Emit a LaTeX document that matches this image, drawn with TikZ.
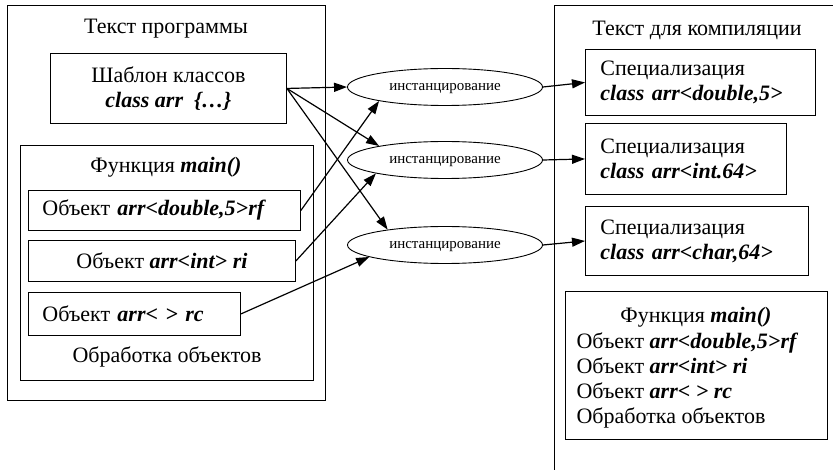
\documentclass[tikz,border=0pt]{standalone}
\usepackage{fontspec}
\setmainfont{Liberation Serif}
\usetikzlibrary{arrows.meta,shapes.geometric}
\tikzset{
  box/.style={draw, line width=0.9pt, anchor=north west, inner sep=0pt},
  ell/.style={draw, ellipse, line width=0.9pt, minimum width=195pt, minimum height=37pt,
    inner sep=0pt, text depth=0pt, font=\fontsize{15}{17}\selectfont},
  link/.style={line width=1.2pt, -{Triangle[length=13pt,width=9pt]}},
}
\newcommand{\code}[1]{\textbf{\textit{#1}}}
\begin{document}
\begin{tikzpicture}[x=1pt,y=-1pt,font=\fontsize{22}{25}\selectfont]
  \useasboundingbox (0,0) rectangle (833,470);
  % program text
  \node[box, minimum width=318pt, minimum height=395pt] (prog) at (7,5) {};
  \node (progtitle) at (166,29) {Текст программы};
  \node[box, minimum width=236pt, minimum height=70pt, align=center] (tpl) at (50,53)
    {Шаблон классов\\\code{class arr~ \{…\}}};
  \node[box, minimum width=293pt, minimum height=235pt] (mainL) at (20,145) {};
  \node (mainLtitle) at (166,167) {Функция \code{main()}};
  \node[box, minimum height=40pt, text width=244pt, inner xsep=14pt, align=left] (objrf) at (28,190)
    {Объект \code{arr<double,5>rf}};
  \node[box, minimum width=267pt, minimum height=41pt] (objri) at (28,240)
    {Объект \code{arr<int> ri}};
  \node[box, minimum height=43pt, text width=184pt, inner xsep=14pt, align=left] (objrc) at (28,292)
    {Объект \code{arr< > rc}};
  \node (procL) at (167,357) {Обработка объектов};
  % instantiation
  \node[ell] (inst1) at (445,87) {инстанцирование};
  \node[ell] (inst2) at (445,160) {инстанцирование};
  \node[ell] (inst3) at (445,245) {инстанцирование};
  % compiled text
  \draw[line width=0.9pt] (554,470) |- (833,5);
  \node (comptitle) at (697,30) {Текст для компиляции};
  \node[box, minimum height=66pt, text width=200pt, inner xsep=15pt, align=left] (spec1) at (585,49)
    {Специализация\\\code{class arr<double,5>}};
  \node[box, minimum height=71pt, text width=171pt, inner xsep=15pt, align=left] (spec2) at (585,123)
    {Специализация\\\code{class arr<int.64>}};
  \node[box, minimum height=69pt, text width=193pt, inner xsep=15pt, align=left] (spec3) at (585,206)
    {Специализация\\\code{class arr<char,64>}};
  \node[box, minimum width=262pt, minimum height=148pt] (mainR) at (565,291) {};
  \node (mainRtitle) at (696,317) {Функция \code{main()}};
  \node[anchor=west, align=left] (mainRbody) at (573,380)
    {Объект \code{arr<double,5>rf}\\Объект \code{arr<int> ri}\\Объект \code{arr< > rc}\\Обработка объектов};
  % connectors
  \draw[link] (tpl.east) -- (inst1.west);
  \draw[link] (tpl.east) -- (inst2.168);
  \draw[link] (tpl.east) -- (inst3.165);
  \draw[link] (objrf.east) -- (inst1.192);
  \draw[link] (objri.east) -- (inst2.191);
  \draw[link] (objrc.east) -- (inst3.189);
  \draw[link] (inst1.east) -- (spec1.west);
  \draw[link] (inst2.east) -- (spec2.west);
  \draw[link] (inst3.east) -- (spec3.west);
\end{tikzpicture}
\end{document}
